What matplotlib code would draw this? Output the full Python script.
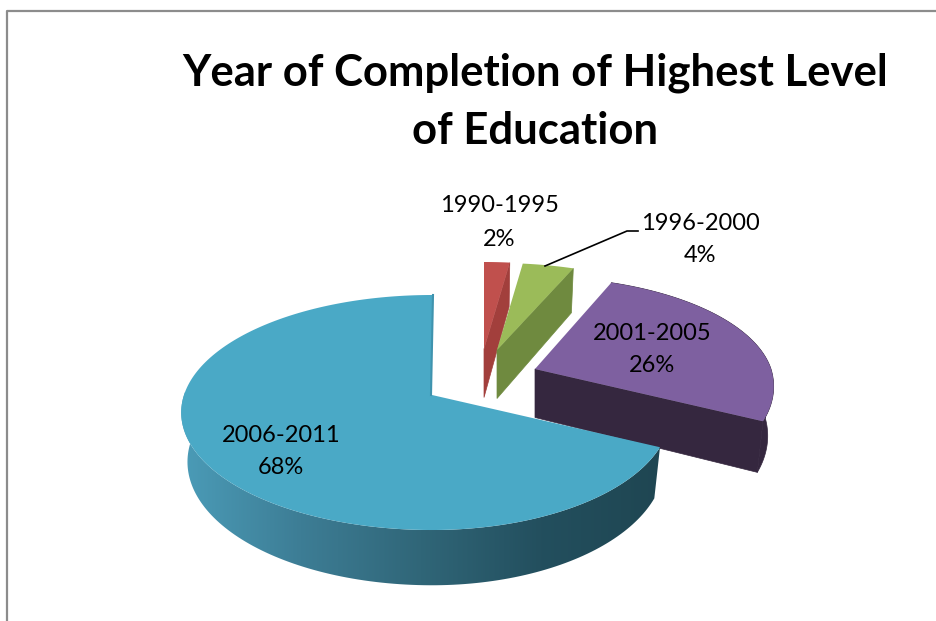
import numpy as np
import matplotlib
matplotlib.use("Agg")
import matplotlib.pyplot as plt
from matplotlib.colors import LinearSegmentedColormap
from matplotlib.patches import Polygon

# Chart data
years = ["1990-1995", "1996-2000", "2001-2005", "2006-2011"]
shares = [2, 4, 26, 68]

top_colors = ["#c0504d", "#9bbb59", "#7e60a0", "#4aa9c6"]
wall_colors = ["#a23f3c", "#6f8a3f", "#35273f", "#1f4652"]

W, H = 936, 621
CX, CY = 432, 395
DEPTH = 48.5
K = 0.149
RY = 114.9

# slice apex positions on the page, in drawing order
apex = {0: (484, 349), 1: (497, 350), 3: (CX, CY), 2: (535, 369)}
far_squash = {0: 0.87, 1: 0.87, 2: 0.92, 3: 1.0}


def project(angle, i):
    # angle is clockwise from 12 o'clock, returns offsets from the slice apex
    u = np.sin(angle)
    v = -np.cos(angle)
    w = 1 - K * v
    rx = np.where(u < 0, 248, 236)
    x = rx * u / w
    y = RY * v / w
    y = np.where(y < 0, y * far_squash[i], y)
    return x, y


def slice_outline(start, end, i):
    t = np.linspace(start, end, 200)
    return project(t, i)


def to_bottom(x, y):
    return x * 0.975, DEPTH + y * 1.05


plt.rcParams["font.family"] = "Lato"

fig = plt.figure(figsize=(W / 100, H / 100), dpi=100)
ax = fig.add_axes([0, 0, 1, 1])
ax.set_xlim(0, W)
ax.set_ylim(H, 0)
ax.axis("off")

# chart frame, only the top and left edges fall inside the page
ax.plot([7, 7, W], [H, 10.5, 10.5], color="#8c8c8c", lw=1.6)

edges = np.radians(np.cumsum([0] + shares) * 3.6)
wall_cmap = LinearSegmentedColormap.from_list(
    "wall", ["#4b9cb8", "#3d7d95", "#306678", "#234f5e", "#1f4652"])

for i in [0, 1, 3, 2]:
    ax_x, ax_y = apex[i]
    x, y = slice_outline(edges[i], edges[i + 1], i)
    bx, by = to_bottom(x, y)

    # walls: the two cut faces, then the outer rim
    cut_end = [(ax_x, ax_y), (ax_x + x[-1], ax_y + y[-1]),
               (ax_x + bx[-1], ax_y + by[-1]), (ax_x, ax_y + DEPTH)]
    if i != 3:
        ax.add_patch(Polygon(cut_end, closed=True, fc=wall_colors[i],
                             ec=wall_colors[i], lw=0.5, zorder=i + 2))

    rim = np.column_stack([np.r_[ax_x + x, (ax_x + bx)[::-1]],
                           np.r_[ax_y + y, (ax_y + by)[::-1]]])
    if i == 3:
        # the large slice gets a shaded rim, dark towards the right
        keep = y > -5
        rim = np.column_stack([np.r_[ax_x + x[keep], (ax_x + bx[keep])[::-1]],
                               np.r_[ax_y + y[keep], (ax_y + by[keep])[::-1]]])
        rim_patch = Polygon(rim, closed=True, fc="none", ec="none", zorder=i + 2)
        ax.add_patch(rim_patch)
        grad = np.linspace(0, 1, 256).reshape(1, -1)
        img = ax.imshow(grad, cmap=wall_cmap, aspect="auto",
                        extent=[180, 662, H, 0], zorder=i + 2)
        img.set_clip_path(rim_patch)
        ax.set_xlim(0, W)
        ax.set_ylim(H, 0)
    elif i == 2:
        ax.add_patch(Polygon(rim, closed=True, fc=wall_colors[i],
                             ec=wall_colors[i], lw=0.5, zorder=i + 2))

    top = np.column_stack([np.r_[ax_x, ax_x + x], np.r_[ax_y, ax_y + y]])
    ax.add_patch(Polygon(top, closed=True, fc=top_colors[i], ec="none", zorder=i + 2.5))

# slightly darker cut edge on the large slice
ax.plot([431, 433], [395, 295], color="#3f93ae", lw=1.5, zorder=6)

# leader line for the thin slice
ax.plot([545, 627, 638], [266, 231, 231], color="black", lw=1.2, zorder=10)

ax.text(535, 73, "Year of Completion of Highest Level", ha="center", va="center",
        fontsize=31.4, fontweight="bold", color="black", zorder=10)
ax.text(535, 131, "of Education", ha="center", va="center",
        fontsize=31.4, fontweight="bold", color="black", zorder=10)

label_pos = [(499, 205, 240), (700, 224, 255), (652, 333, 365), (281, 435, 467)]
for name, share, (lx, y1, y2) in zip(years, shares, label_pos):
    ax.text(lx, y1, name, ha="center", va="center", fontsize=17, color="black", zorder=10)
    ax.text(lx, y2, f"{share}%", ha="center", va="center", fontsize=17, color="black", zorder=10)

fig.savefig("out.png", dpi=100)
